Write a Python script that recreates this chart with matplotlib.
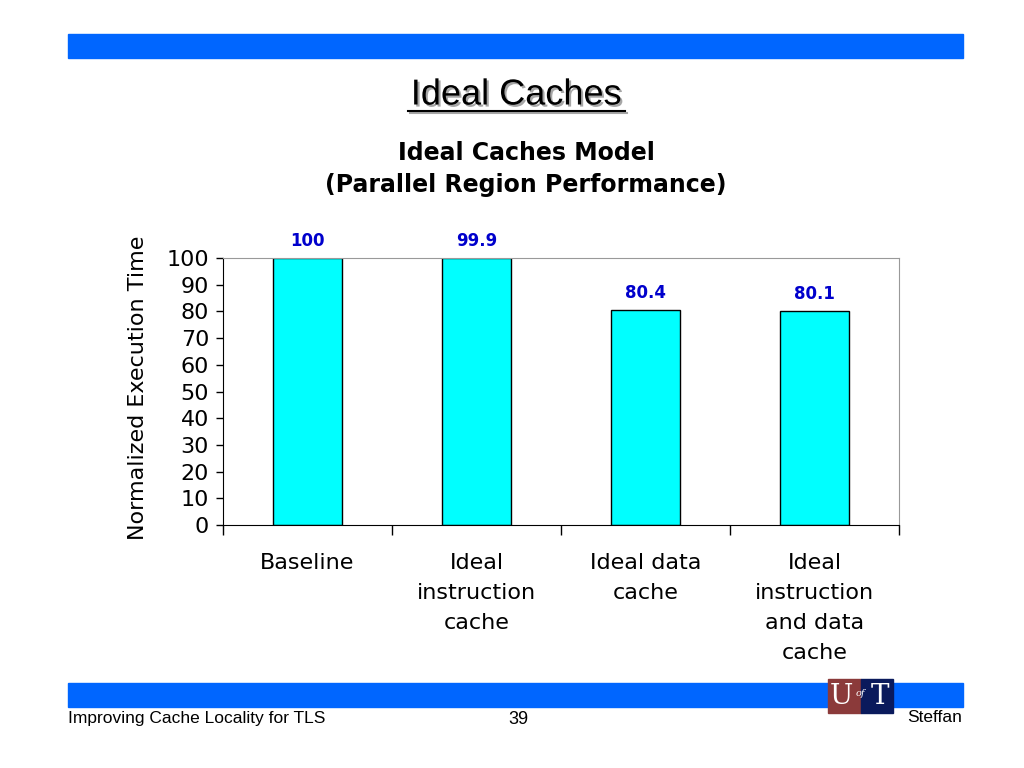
import matplotlib
matplotlib.use("Agg")
import matplotlib.pyplot as plt
import matplotlib.patches as mpatches
import matplotlib.patheffects as pe
from matplotlib.lines import Line2D
import numpy as np

# datos del gráfico
categorias = ["Baseline", "Ideal\ninstruction\ncache", "Ideal data\ncache",
              "Ideal\ninstruction\nand data\ncache"]
valores = [100, 99.9, 80.4, 80.1]
etiquetas = ["100", "99.9", "80.4", "80.1"]
y_ticks = [0, 10, 20, 30, 40, 50, 60, 70, 80, 90, 100]

narrow = ["Liberation Sans Narrow", "Liberation Sans", "DejaVu Sans"]
chart_font = ["DejaVu Sans"]

fig = plt.figure(figsize=(10.24, 7.68), dpi=100)
W, H = 1024, 768

def fx(px):
    return px / W

def fy(py):
    return 1 - py / H

azul = "#0066FF"
# bandas azules (arriba y abajo)
fig.patches.append(mpatches.Rectangle((fx(68), fy(58)), fx(963) - fx(68), fy(34) - fy(58),
                                      transform=fig.transFigure, color=azul, zorder=0))
fig.patches.append(mpatches.Rectangle((fx(68), fy(707)), fx(963) - fx(68), fy(683) - fy(707),
                                      transform=fig.transFigure, color=azul, zorder=0))

# logo U of T
fig.patches.append(mpatches.Rectangle((fx(828), fy(713)), fx(861) - fx(828), fy(679) - fy(713),
                                      transform=fig.transFigure, color="#8B3A3A", zorder=2))
fig.patches.append(mpatches.Rectangle((fx(861), fy(713)), fx(893) - fx(861), fy(679) - fy(713),
                                      transform=fig.transFigure, color="#0A1A5C", zorder=2))
fig.text(fx(841), fy(697), "U", color="white", fontsize=20, family="DejaVu Serif",
         ha="center", va="center", zorder=3)
fig.text(fx(860), fy(694), "of", color="white", fontsize=7, family="DejaVu Serif",
         style="italic", ha="center", va="center", zorder=3)
fig.text(fx(880), fy(697), "T", color="white", fontsize=20, family="DejaVu Serif",
         ha="center", va="center", zorder=3)

# título de la diapositiva, subrayado y con sombra
fig.text(fx(516), fy(95), "Ideal Caches", fontsize=26, family=narrow, ha="center", va="center",
         path_effects=[pe.SimplePatchShadow(offset=(1.5, -1.5), alpha=0.35), pe.Normal()])
fig.lines.append(Line2D([fx(408), fx(625)], [fy(111), fy(111)], transform=fig.transFigure,
                        color="black", lw=1.5,
                        path_effects=[pe.SimpleLineShadow(offset=(1.5, -1.5), alpha=0.35), pe.Normal()]))

# título del gráfico
fig.text(fx(526), fy(169), "Ideal Caches Model\n(Parallel Region Performance)", fontsize=17,
         fontweight="bold", family=chart_font, ha="center", va="center", linespacing=1.45)

# pie de página
fig.text(fx(68), fy(718), "Improving Cache Locality for TLS", fontsize=12.5, family=narrow,
         ha="left", va="center")
fig.text(fx(518), fy(719), "39", fontsize=13, family=narrow, ha="center", va="center")
fig.text(fx(962), fy(718), "Steffan", fontsize=12.5, family=narrow, ha="right", va="center")

# ejes
ax = fig.add_axes([fx(223), fy(525), fx(899) - fx(223), fy(258) - fy(525)])
x = np.arange(len(categorias))
ax.bar(x, valores, width=0.41, color="#00FFFF", edgecolor="black", linewidth=1, zorder=2)

for xi, v, t in zip(x, valores, etiquetas):
    ax.annotate(t, (xi, v), xytext=(0, 6), textcoords="offset points", ha="center", va="bottom",
                color="#0000CC", fontweight="bold", fontsize=12, family=chart_font,
                annotation_clip=False)

ax.set_xlim(-0.5, len(categorias) - 0.5)
ax.set_ylim(0, 100)
ax.set_yticks(y_ticks)
ax.tick_params(axis="y", direction="out", length=5, width=1, labelsize=16, pad=5)
for lab in ax.get_yticklabels():
    lab.set_family(chart_font)

ax.set_xticks(np.arange(len(categorias) + 1) - 0.5)
ax.set_xticklabels([])
ax.tick_params(axis="x", which="major", direction="out", length=7, width=1)
ax.set_xticks(x, minor=True)
ax.set_xticklabels(categorias, minor=True, fontsize=16, family=chart_font, linespacing=1.62)
ax.tick_params(axis="x", which="minor", length=0, pad=20)

ax.spines["top"].set_color("#999999")
ax.spines["right"].set_color("#999999")
ax.spines["left"].set_color("black")
ax.spines["bottom"].set_color("black")

fig.text(fx(138), fy(388), "Normalized Execution Time", rotation=90, fontsize=16,
         family=chart_font, ha="center", va="center")

fig.savefig("out.png", dpi=100)
